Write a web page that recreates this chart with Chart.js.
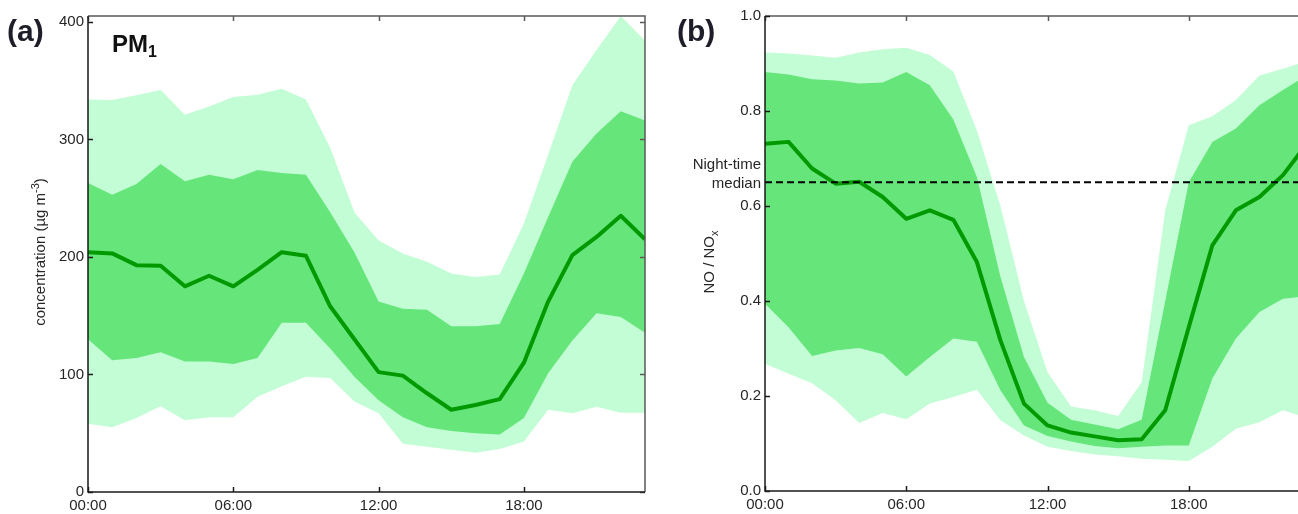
<!DOCTYPE html>
<html>
<head>
<meta charset="utf-8">
<script src="https://cdn.jsdelivr.net/npm/chart.js@4.4.1/dist/chart.umd.min.js"></script>
<style>
  html, body { margin: 0; padding: 0; background: #fff; overflow: hidden; }
  #wrap { position: relative; width: 1298px; height: 514px; overflow: hidden; }
  canvas { position: absolute; top: 0; }
  #chart-pm { left: 0; }
  #chart-no { left: 660px; }
</style>
</head>
<body>
<div id="wrap">
  <canvas id="chart-pm" width="660" height="514"></canvas>
  <canvas id="chart-no" width="660" height="514"></canvas>
</div>
<script>
// hour of day for every value below
const HOURS = [0, 1, 2, 3, 4, 5, 6, 7, 8, 9, 10, 11, 12, 13, 14, 15, 16, 17, 18, 19, 20, 21, 22, 23];
const HOUR_TICKS = [0, 6, 12, 18];

// PM1 concentration (µg m-3): median, 25-75 and 10-90 percentile bands
const pmMedian = [204, 203, 193, 192.5, 175, 184, 175, 189, 204, 201, 158, 130, 102, 99, 84, 70, 74, 79, 110, 162, 201.5, 217, 235, 215];
const pmP25 = [130, 112, 114, 119, 111, 111, 109, 114, 144, 144, 122, 98, 78, 63.5, 55, 52, 50, 49, 63, 101, 129, 152, 149, 135.5];
const pmP75 = [263, 253, 262, 279, 264.5, 270, 266, 274, 271.5, 270, 238, 204, 162, 156, 155, 141, 141, 143, 186, 234, 281, 305, 324, 316];
const pmP10 = [58, 55, 63, 73, 61, 63.5, 63.5, 81, 90, 98, 97, 77, 67, 41, 38.5, 36, 33.5, 36.5, 43, 70, 67, 72.5, 67.5, 67.5];
const pmP90 = [334, 333.5, 337.5, 342, 321, 328, 336, 338, 343, 334, 293, 238, 214, 203, 196, 186, 183, 185, 228.5, 287, 346, 376, 405, 384];
const PM_TICKS = [0, 100, 200, 300, 400];

// NO / NOx ratio: median, 25-75 and 10-90 percentile bands
const noMedian = [0.731, 0.735, 0.679, 0.647, 0.651, 0.619, 0.573, 0.591, 0.571, 0.482, 0.317, 0.184, 0.138, 0.123, 0.115, 0.107, 0.109, 0.170, 0.345, 0.517, 0.591, 0.619, 0.665, 0.73];
const noP25 = [0.394, 0.345, 0.284, 0.296, 0.301, 0.288, 0.241, 0.282, 0.321, 0.314, 0.212, 0.138, 0.116, 0.104, 0.095, 0.090, 0.093, 0.096, 0.096, 0.237, 0.321, 0.377, 0.405, 0.41];
const noP75 = [0.882, 0.877, 0.867, 0.864, 0.858, 0.860, 0.882, 0.854, 0.782, 0.661, 0.451, 0.282, 0.186, 0.150, 0.140, 0.130, 0.150, 0.400, 0.650, 0.735, 0.763, 0.812, 0.844, 0.875];
const noP10 = [0.268, 0.247, 0.227, 0.191, 0.143, 0.164, 0.151, 0.184, 0.198, 0.213, 0.149, 0.117, 0.093, 0.084, 0.077, 0.073, 0.068, 0.066, 0.063, 0.093, 0.131, 0.145, 0.170, 0.155];
const noP90 = [0.923, 0.921, 0.917, 0.912, 0.923, 0.930, 0.933, 0.918, 0.883, 0.759, 0.600, 0.400, 0.250, 0.178, 0.170, 0.158, 0.229, 0.591, 0.770, 0.789, 0.823, 0.875, 0.889, 0.905];
const NO_TICKS = [0, 0.2, 0.4, 0.6, 0.8, 1.0];
const NIGHT_MEDIAN = 0.65;

const COLORS = {
  outer: '#c3fdd5',
  inner: '#66e67a',
  median: '#009a00',
  text: '#262626',
  letter: '#1e1e2a'
};
const FONT = '"Liberation Sans", Arial, sans-serif';

Chart.defaults.font.family = FONT;
Chart.defaults.font.size = 15;
Chart.defaults.color = COLORS.text;

const toPoints = arr => arr.map((v, i) => ({ x: HOURS[i], y: v }));

// draws a run of text pieces (sub/superscripts) in one line, optionally rotated
function drawRun(ctx, pieces, x, y, align, rotate) {
  ctx.save();
  ctx.translate(x, y);
  if (rotate) ctx.rotate(-Math.PI / 2);
  let total = 0;
  pieces.forEach(p => { ctx.font = p.font; total += ctx.measureText(p.text).width; });
  let cx = align === 'center' ? -total / 2 : (align === 'right' ? -total : 0);
  ctx.textAlign = 'left';
  ctx.textBaseline = 'alphabetic';
  pieces.forEach(p => {
    ctx.font = p.font;
    ctx.fillStyle = p.color || COLORS.text;
    ctx.fillText(p.text, cx, p.dy || 0);
    cx += ctx.measureText(p.text).width;
  });
  ctx.restore();
}

// boxed frame with short inward ticks on all four sides
const frameTicks = {
  id: 'frameTicks',
  afterDatasetsDraw(chart) {
    const { ctx, chartArea: a, scales: { x, y } } = chart;
    const len = 5;
    ctx.save();
    ctx.lineWidth = 1.5;
    ctx.strokeStyle = '#5a5a5a';
    ctx.beginPath();
    ctx.moveTo(a.left, a.top);
    ctx.lineTo(a.right, a.top);
    ctx.lineTo(a.right, a.bottom);
    ctx.stroke();
    x.ticks.forEach(t => {
      const px = Math.round(x.getPixelForValue(t.value)) + 0.5;
      ctx.beginPath(); ctx.moveTo(px, a.top); ctx.lineTo(px, a.top + len); ctx.stroke();
    });
    y.ticks.forEach(t => {
      const py = Math.round(y.getPixelForValue(t.value)) + 0.5;
      ctx.beginPath(); ctx.moveTo(a.right, py); ctx.lineTo(a.right - len, py); ctx.stroke();
    });
    ctx.strokeStyle = '#1a1a1a';
    ctx.beginPath();
    ctx.moveTo(a.left, a.top);
    ctx.lineTo(a.left, a.bottom);
    ctx.lineTo(a.right, a.bottom);
    ctx.stroke();
    x.ticks.forEach(t => {
      const px = Math.round(x.getPixelForValue(t.value)) + 0.5;
      ctx.beginPath(); ctx.moveTo(px, a.bottom); ctx.lineTo(px, a.bottom - len); ctx.stroke();
    });
    y.ticks.forEach(t => {
      const py = Math.round(y.getPixelForValue(t.value)) + 0.5;
      ctx.beginPath(); ctx.moveTo(a.left, py); ctx.lineTo(a.left + len, py); ctx.stroke();
    });
    ctx.restore();
  }
};

// extra text for each panel, given as option "panelText.draw"
const panelText = {
  id: 'panelText',
  afterDraw(chart, args, opts) {
    if (opts.draw) opts.draw(chart.ctx, chart);
  }
};

function bandDatasets(median, p25, p75, p10, p90) {
  return [
    { data: toPoints(median), borderColor: COLORS.median, borderWidth: 4, fill: false },
    { data: toPoints(p75), borderWidth: 0, backgroundColor: COLORS.inner, fill: { target: 2 } },
    { data: toPoints(p25), borderWidth: 0, fill: false },
    { data: toPoints(p90), borderWidth: 0, backgroundColor: COLORS.outer, fill: { target: 4 } },
    { data: toPoints(p10), borderWidth: 0, fill: false }
  ];
}

function hourAxis(height) {
  return {
    type: 'linear',
    min: 0,
    max: 23,
    afterBuildTicks: s => { s.ticks = HOUR_TICKS.map(v => ({ value: v })); },
    afterFit: s => { s.height = height; },
    grid: { display: false, drawTicks: false },
    border: { display: false },
    ticks: {
      padding: 5,
      maxRotation: 0,
      autoSkip: false,
      callback: v => String(v).padStart(2, '0') + ':00'
    }
  };
}

function baseOptions(padRight) {
  return {
    responsive: false,
    animation: false,
    layout: { padding: { top: 16, right: padRight, left: 0, bottom: 0 } },
    elements: { point: { radius: 0 }, line: { tension: 0, borderJoinStyle: 'round' } },
    plugins: {
      legend: { display: false },
      tooltip: { enabled: false },
      filler: { propagate: false }
    }
  };
}

// (a) PM1 concentration
const optsPm = baseOptions(15);
optsPm.scales = {
  x: hourAxis(22),
  y: {
    type: 'linear',
    min: 0,
    max: 405,
    afterBuildTicks: s => { s.ticks = PM_TICKS.map(v => ({ value: v })); },
    afterFit: s => { s.width = 88; },
    grid: { display: false, drawTicks: false },
    border: { display: false },
    ticks: { padding: 4 }
  }
};
optsPm.plugins.panelText = {
  draw(ctx) {
    drawRun(ctx, [{ text: '(a)', font: 'bold 30px ' + FONT, color: COLORS.letter }], 7, 41, 'left');
    drawRun(ctx, [
      { text: 'PM', font: 'bold 24px ' + FONT, color: '#111' },
      { text: '1', font: 'bold 16px ' + FONT, color: '#111', dy: 5 }
    ], 112, 52, 'left');
    drawRun(ctx, [
      { text: 'concentration (µg m', font: '15px ' + FONT },
      { text: '-3', font: '11px ' + FONT, dy: -6 },
      { text: ')', font: '15px ' + FONT }
    ], 45, 252, 'center', true);
  }
};

new Chart(document.getElementById('chart-pm'), {
  type: 'line',
  data: { datasets: bandDatasets(pmMedian, pmP25, pmP75, pmP10, pmP90) },
  options: optsPm,
  plugins: [frameTicks, panelText]
});

// (b) NO / NOx ratio with night-time median reference
const optsNo = baseOptions(13.5);
optsNo.scales = {
  x: hourAxis(23),
  y: {
    type: 'linear',
    min: 0,
    max: 1,
    afterBuildTicks: s => { s.ticks = NO_TICKS.map(v => ({ value: v })); },
    afterFit: s => { s.width = 105; },
    grid: { display: false, drawTicks: false },
    border: { display: false },
    ticks: { padding: 4, callback: v => v.toFixed(1) }
  }
};
optsNo.plugins.panelText = {
  draw(ctx) {
    drawRun(ctx, [{ text: '(b)', font: 'bold 30px ' + FONT, color: COLORS.letter }], 17, 41, 'left');
    drawRun(ctx, [
      { text: 'NO / NO', font: '15px ' + FONT },
      { text: 'x', font: '11px ' + FONT, dy: 4 }
    ], 54, 262, 'center', true);
    drawRun(ctx, [{ text: 'Night-time', font: '15px ' + FONT }], 101, 169, 'right');
    drawRun(ctx, [{ text: 'median', font: '15px ' + FONT }], 101, 188, 'right');
  }
};

const noDatasets = bandDatasets(noMedian, noP25, noP75, noP10, noP90);
noDatasets.unshift({
  data: [{ x: HOURS[0], y: NIGHT_MEDIAN }, { x: HOURS[HOURS.length - 1], y: NIGHT_MEDIAN }],
  borderColor: '#000',
  borderWidth: 2,
  borderDash: [7, 4],
  fill: false
});
// indices shifted by one after the reference line was added
noDatasets[2].fill = { target: 3 };
noDatasets[4].fill = { target: 5 };

new Chart(document.getElementById('chart-no'), {
  type: 'line',
  data: { datasets: noDatasets },
  options: optsNo,
  plugins: [frameTicks, panelText]
});
</script>
</body>
</html>
